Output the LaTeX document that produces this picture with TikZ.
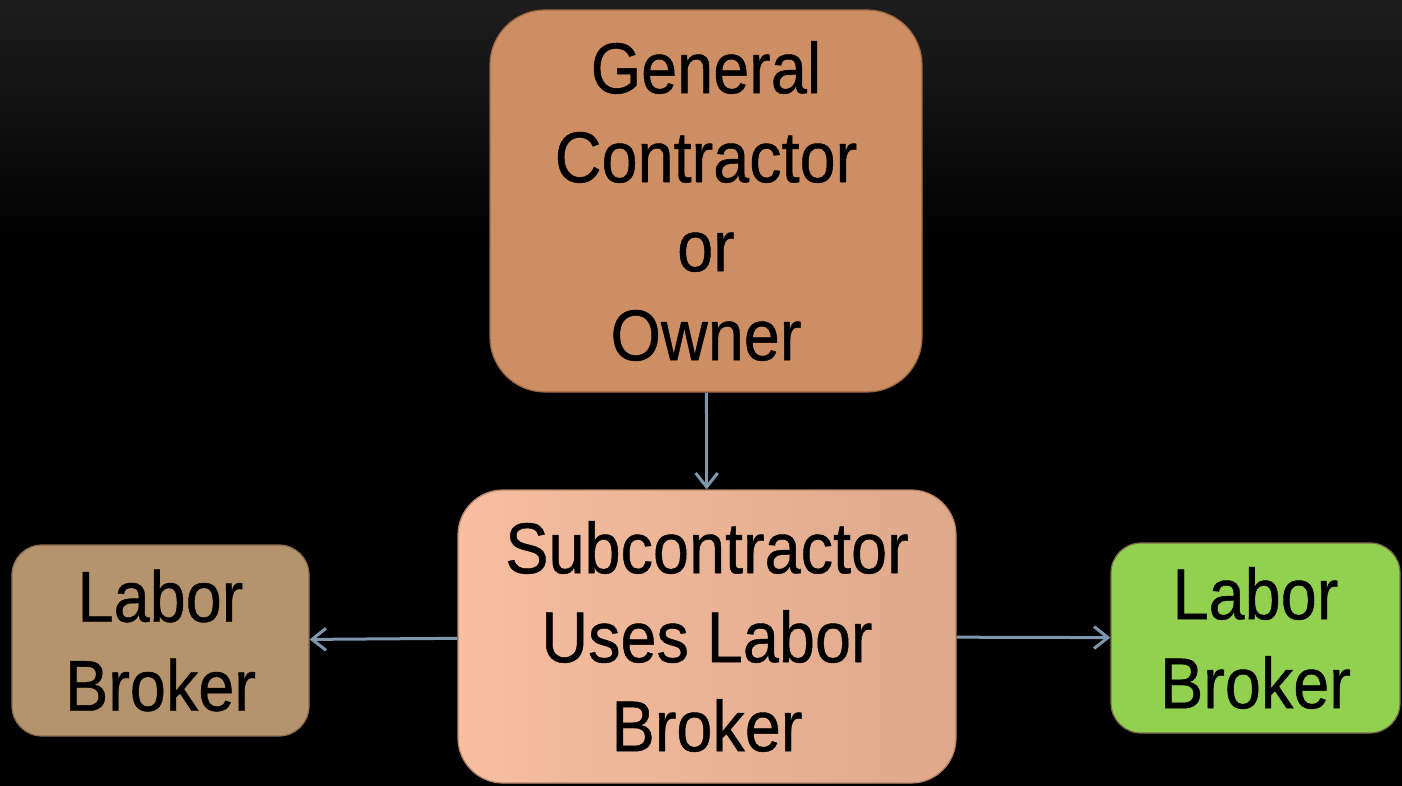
\documentclass[tikz,border=0pt]{standalone}
\usepackage{fontspec}
\setmainfont{Liberation Sans}[FakeStretch=0.9,FakeBold=0.6]
\usetikzlibrary{arrows.meta,shadings}
\definecolor{topbox}{HTML}{CD8E63}
\definecolor{topedge}{HTML}{9C6844}
\definecolor{subL}{HTML}{F7BEA0}
\definecolor{subR}{HTML}{DDA98A}
\definecolor{subedge}{HTML}{B98466}
\definecolor{leftbox}{HTML}{B5936C}
\definecolor{leftedge}{HTML}{8A6E50}
\definecolor{greenbox}{HTML}{92D050}
\definecolor{greenedge}{HTML}{7D6B4E}
\definecolor{arrowc}{HTML}{7E97AD}
\definecolor{bgtop}{HTML}{1E1E1E}
\tikzset{
  box/.style={draw, line width=1.2pt, align=center, inner sep=0pt, font=\fontsize{72}{89}\selectfont, text=black},
  conn/.style={draw=arrowc, line width=3pt, -{Straight Barb[length=14pt,width=22pt,line width=3pt]}}
}
\begin{document}
\begin{tikzpicture}[x=1pt,y=-1pt]
\useasboundingbox (0,0) rectangle (1402,786);
\shade[top color=bgtop, bottom color=black, middle color=black] (0,0) rectangle (1402,500);
\fill[black] (0,499) rectangle (1402,786);
\node[box, fill=topbox, draw=topedge, rounded corners=55pt, minimum width=432pt, minimum height=382pt] (gc) at (706,201) {General\\Contractor\\or\\Owner};
\node[box, left color=subL, right color=subR, draw=subedge, rounded corners=45pt, minimum width=498pt, minimum height=293pt] (sub) at (707,636.5) {Subcontractor\\Uses Labor\\Broker};
\node[box, fill=leftbox, draw=leftedge, rounded corners=30pt, minimum width=297pt, minimum height=191pt] (lb1) at (160.5,640.5) {Labor\\Broker};
\node[box, fill=greenbox, draw=greenedge, rounded corners=30pt, minimum width=289pt, minimum height=190pt] (lb2) at (1255.5,638) {Labor\\Broker};
\draw[conn] (gc) -- (sub);
\draw[conn] (sub) -- (lb1);
\draw[conn] (sub) -- (lb2);
\end{tikzpicture}
\end{document}
